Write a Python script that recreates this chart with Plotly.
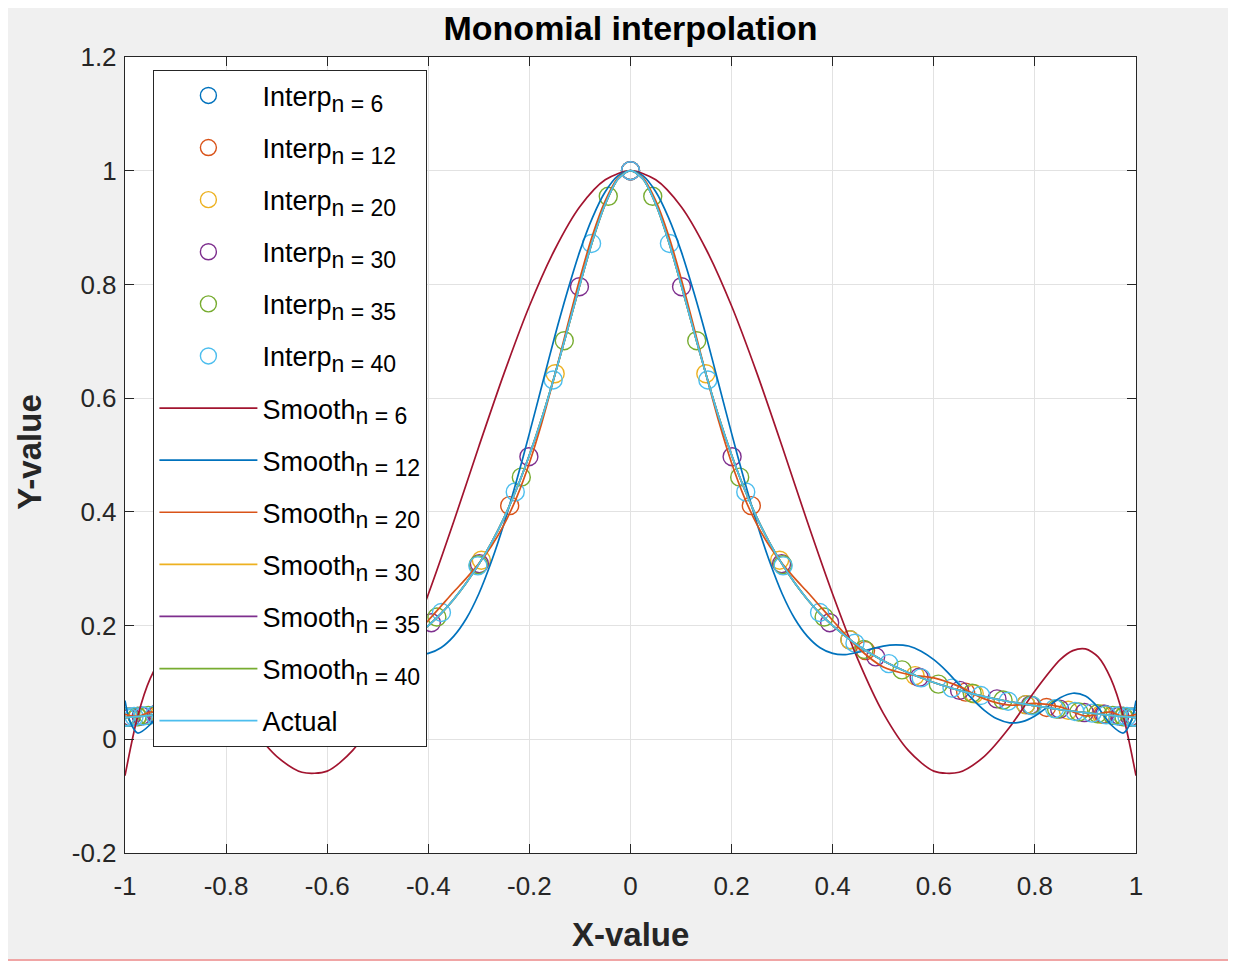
import plotly.graph_objects as go

# ---------------- data ----------------
interp6_x = [-0.975, -0.782, -0.434, 0.0, 0.434, 0.782, 0.975]
interp6_y = [0.040, 0.061, 0.175, 1.0, 0.175, 0.061, 0.040]

interp12_x = [-0.993, -0.935, -0.823, -0.663, -0.465, -0.239, 0.0,
              0.239, 0.465, 0.663, 0.823, 0.935, 0.993]
interp12_y = [0.039, 0.044, 0.056, 0.083, 0.156, 0.411, 1.0,
              0.411, 0.156, 0.083, 0.056, 0.044, 0.039]

interp20_x = [-0.997, -0.975, -0.931, -0.866, -0.782, -0.680, -0.563, -0.434, -0.295, -0.149, 0.0,
              0.149, 0.295, 0.434, 0.563, 0.680, 0.782, 0.866, 0.931, 0.975, 0.997]
interp20_y = [0.039, 0.040, 0.044, 0.051, 0.061, 0.080, 0.112, 0.175, 0.315, 0.643, 1.0,
              0.643, 0.315, 0.175, 0.112, 0.080, 0.061, 0.051, 0.044, 0.040, 0.039]

interp30_x = [-0.999, -0.988, -0.968, -0.938, -0.898, -0.849, -0.791, -0.725, -0.651, -0.571,
              -0.485, -0.394, -0.299, -0.201, -0.101, 0.0,
              0.101, 0.201, 0.299, 0.394, 0.485, 0.571, 0.651, 0.725, 0.791, 0.849,
              0.898, 0.938, 0.968, 0.988, 0.999]
interp30_y = [0.039, 0.039, 0.041, 0.044, 0.047, 0.053, 0.060, 0.071, 0.086, 0.109,
              0.145, 0.205, 0.309, 0.497, 0.796, 1.0,
              0.796, 0.497, 0.309, 0.205, 0.145, 0.109, 0.086, 0.071, 0.060, 0.053,
              0.047, 0.044, 0.041, 0.039, 0.039]

interp35_x = [-0.999, -0.991, -0.976, -0.954, -0.924, -0.887, -0.843, -0.793, -0.737,
              -0.676, -0.609, -0.537, -0.462, -0.383, -0.301, -0.216, -0.131, -0.044,
              0.044, 0.131, 0.216, 0.301, 0.383, 0.462, 0.537, 0.609, 0.676,
              0.737, 0.793, 0.843, 0.887, 0.924, 0.954, 0.976, 0.991, 0.999]
interp35_y = [0.039, 0.039, 0.040, 0.042, 0.045, 0.048, 0.053, 0.060, 0.069,
              0.081, 0.097, 0.122, 0.158, 0.215, 0.307, 0.461, 0.701, 0.955,
              0.955, 0.701, 0.461, 0.307, 0.215, 0.158, 0.122, 0.097, 0.081,
              0.069, 0.060, 0.053, 0.048, 0.045, 0.042, 0.040, 0.039, 0.039]

interp40_x = [-0.999, -0.993, -0.982, -0.964, -0.941, -0.913, -0.879, -0.839, -0.795, -0.747,
              -0.693, -0.636, -0.575, -0.511, -0.444, -0.374, -0.302, -0.228, -0.153, -0.077, 0.0,
              0.077, 0.153, 0.228, 0.302, 0.374, 0.444, 0.511, 0.575, 0.636, 0.693,
              0.747, 0.795, 0.839, 0.879, 0.913, 0.941, 0.964, 0.982, 0.993, 0.999]
interp40_y = [0.039, 0.039, 0.040, 0.041, 0.043, 0.046, 0.049, 0.054, 0.059, 0.067,
              0.077, 0.090, 0.108, 0.133, 0.169, 0.223, 0.305, 0.435, 0.632, 0.872, 1.0,
              0.872, 0.632, 0.435, 0.305, 0.223, 0.169, 0.133, 0.108, 0.090, 0.077,
              0.067, 0.059, 0.054, 0.049, 0.046, 0.043, 0.041, 0.040, 0.039, 0.039]

smooth6_x = [-1.0, -0.975, -0.95, -0.925, -0.9, -0.875, -0.85, -0.8, -0.75, -0.7, -0.65, -0.6,
             -0.55, -0.5, -0.45, -0.4, -0.35, -0.3, -0.25, -0.2, -0.15, -0.1, -0.05, 0.0,
             0.05, 0.1, 0.15, 0.2, 0.25, 0.3, 0.35, 0.4, 0.45, 0.5, 0.55,
             0.6, 0.65, 0.7, 0.75, 0.8, 0.85, 0.875, 0.9, 0.925, 0.95, 0.975, 1.0]
smooth6_y = [-0.064, 0.040, 0.107, 0.145, 0.159, 0.156, 0.140, 0.085, 0.021, -0.030, -0.058, -0.056,
             -0.020, 0.046, 0.140, 0.255, 0.382, 0.515, 0.644, 0.762, 0.861, 0.937, 0.984, 1.0,
             0.984, 0.937, 0.861, 0.762, 0.644, 0.515, 0.382, 0.255, 0.140, 0.046, -0.020,
             -0.056, -0.058, -0.030, 0.021, 0.085, 0.140, 0.156, 0.159, 0.145, 0.107, 0.040, -0.064]

smooth12_x = [-1.0, -0.99, -0.975, -0.95, -0.925, -0.9, -0.875, -0.85, -0.825, -0.8, -0.775,
              -0.75, -0.725, -0.7, -0.675, -0.65, -0.625, -0.6, -0.575, -0.55, -0.525, -0.5,
              -0.45, -0.425, -0.4, -0.375, -0.35, -0.325, -0.3, -0.275, -0.25, -0.225, -0.2,
              -0.175, -0.15, -0.125, -0.1, -0.075, -0.05, -0.025, 0.0,
              0.025, 0.05, 0.075, 0.1, 0.125, 0.15, 0.175, 0.2, 0.225, 0.25, 0.275, 0.3,
              0.325, 0.35, 0.375, 0.4, 0.425, 0.45, 0.5, 0.525, 0.55, 0.575, 0.6, 0.625,
              0.65, 0.675, 0.7, 0.725, 0.75, 0.775, 0.8, 0.825, 0.85, 0.875, 0.9, 0.925,
              0.95, 0.975, 0.99, 1.0]
smooth12_y = [0.068, 0.031, 0.011, 0.026, 0.056, 0.076, 0.081, 0.073, 0.057, 0.041, 0.031,
              0.029, 0.036, 0.051, 0.072, 0.096, 0.120, 0.140, 0.155, 0.164, 0.166, 0.164,
              0.153, 0.149, 0.151, 0.161, 0.181, 0.212, 0.256, 0.313, 0.380, 0.456, 0.538,
              0.623, 0.708, 0.787, 0.859, 0.918, 0.963, 0.991, 1.0,
              0.991, 0.963, 0.918, 0.859, 0.787, 0.708, 0.623, 0.538, 0.456, 0.380, 0.313, 0.256,
              0.212, 0.181, 0.161, 0.151, 0.149, 0.153, 0.164, 0.166, 0.164, 0.155, 0.140, 0.120,
              0.096, 0.072, 0.051, 0.036, 0.029, 0.031, 0.041, 0.057, 0.073, 0.081, 0.076, 0.056,
              0.026, 0.011, 0.031, 0.068]

smooth20_x = [-1.0, -0.975, -0.95, -0.9, -0.85, -0.8, -0.75, -0.7, -0.65, -0.6, -0.55, -0.5,
              -0.45, -0.4, -0.375, -0.35, -0.325, -0.3, -0.275, -0.25, -0.225, -0.2, -0.175,
              -0.15, -0.125, -0.1, -0.075, -0.05, -0.025, 0.0,
              0.025, 0.05, 0.075, 0.1, 0.125, 0.15, 0.175, 0.2, 0.225, 0.25, 0.275, 0.3,
              0.325, 0.35, 0.375, 0.4, 0.45, 0.5, 0.55, 0.6, 0.65, 0.7, 0.75, 0.8, 0.85,
              0.9, 0.95, 0.975, 1.0]
smooth20_y = [0.044, 0.040, 0.048, 0.041, 0.057, 0.063, 0.060, 0.071, 0.093, 0.108, 0.114, 0.127,
              0.161, 0.209, 0.234, 0.259, 0.283, 0.309, 0.340, 0.378, 0.426, 0.486, 0.558,
              0.640, 0.726, 0.811, 0.887, 0.947, 0.987, 1.0,
              0.987, 0.947, 0.887, 0.811, 0.726, 0.640, 0.558, 0.486, 0.426, 0.378, 0.340, 0.309,
              0.283, 0.259, 0.234, 0.209, 0.161, 0.127, 0.114, 0.108, 0.093, 0.071, 0.060, 0.063, 0.057,
              0.041, 0.048, 0.040, 0.044]

actual_x = [-1.0, -0.95, -0.9, -0.85, -0.8, -0.75, -0.7, -0.65, -0.6, -0.55, -0.5, -0.45,
            -0.4, -0.375, -0.35, -0.325, -0.3, -0.275, -0.25, -0.225, -0.2, -0.175, -0.15,
            -0.125, -0.1, -0.075, -0.05, -0.025, 0.0,
            0.025, 0.05, 0.075, 0.1, 0.125, 0.15, 0.175, 0.2, 0.225, 0.25, 0.275, 0.3,
            0.325, 0.35, 0.375, 0.4, 0.45, 0.5, 0.55, 0.6, 0.65, 0.7, 0.75, 0.8, 0.85,
            0.9, 0.95, 1.0]
actual_y = [0.038, 0.042, 0.047, 0.052, 0.059, 0.066, 0.075, 0.086, 0.100, 0.117, 0.138, 0.165,
            0.200, 0.221, 0.246, 0.275, 0.308, 0.346, 0.390, 0.441, 0.500, 0.566, 0.640,
            0.719, 0.800, 0.877, 0.941, 0.985, 1.0,
            0.985, 0.941, 0.877, 0.800, 0.719, 0.640, 0.566, 0.500, 0.441, 0.390, 0.346, 0.308,
            0.275, 0.246, 0.221, 0.200, 0.165, 0.138, 0.117, 0.100, 0.086, 0.075, 0.066, 0.059, 0.052,
            0.047, 0.042, 0.038]

# higher-order smooth curves are visually identical to the actual curve
smooth30_y = actual_y
smooth35_y = actual_y
smooth40_y = actual_y

x_ticks = [-1, -0.8, -0.6, -0.4, -0.2, 0, 0.2, 0.4, 0.6, 0.8, 1]
x_tick_text = ["-1", "-0.8", "-0.6", "-0.4", "-0.2", "0", "0.2", "0.4", "0.6", "0.8", "1"]
y_ticks = [-0.2, 0, 0.2, 0.4, 0.6, 0.8, 1.0, 1.2]
y_tick_text = ["-0.2", "0", "0.2", "0.4", "0.6", "0.8", "1", "1.2"]

# ---------------- styling ----------------
C_BLUE = "#0072BD"
C_ORANGE = "#D95319"
C_YELLOW = "#EDB120"
C_PURPLE = "#7E2F8E"
C_GREEN = "#77AC30"
C_CYAN = "#4DBEEE"
C_RED = "#A2142F"
AX = "#262626"
FONT = "Liberation Sans, Arial, Helvetica, sans-serif"

FIG_W, FIG_H = 1228, 953
ML, MR, MT, MB = 117, 100, 49, FIG_H - 845
PLOT_H = 845 - 49


def sub_label(main, n):
    return f'{main}<sub><span style="font-size:23px">n = {n}</span></sub>'


fig = go.Figure()

markers = [
    (sub_label("Interp", 6), interp6_x, interp6_y, C_BLUE),
    (sub_label("Interp", 12), interp12_x, interp12_y, C_ORANGE),
    (sub_label("Interp", 20), interp20_x, interp20_y, C_YELLOW),
    (sub_label("Interp", 30), interp30_x, interp30_y, C_PURPLE),
    (sub_label("Interp", 35), interp35_x, interp35_y, C_GREEN),
    (sub_label("Interp", 40), interp40_x, interp40_y, C_CYAN),
]
for i, (name, xs, ys, col) in enumerate(markers):
    fig.add_trace(go.Scatter(
        x=xs, y=ys, mode="markers", name=name, legendgroup=f"g{i}",
        marker=dict(symbol="circle-open", size=18, color=col, line=dict(width=1.4, color=col)),
    ))

lines = [
    (sub_label("Smooth", 6), smooth6_x, smooth6_y, C_RED),
    (sub_label("Smooth", 12), smooth12_x, smooth12_y, C_BLUE),
    (sub_label("Smooth", 20), smooth20_x, smooth20_y, C_ORANGE),
    (sub_label("Smooth", 30), actual_x, smooth30_y, C_YELLOW),
    (sub_label("Smooth", 35), actual_x, smooth35_y, C_PURPLE),
    (sub_label("Smooth", 40), actual_x, smooth40_y, C_GREEN),
    ("Actual", actual_x, actual_y, C_CYAN),
]
for i, (name, xs, ys, col) in enumerate(lines):
    fig.add_trace(go.Scatter(
        x=xs, y=ys, mode="lines", name=name, legendgroup=f"h{i}",
        line=dict(color=col, width=1.7, shape="spline", smoothing=0.8),
    ))

axis_common = dict(
    showline=True, linecolor=AX, linewidth=1.4, mirror="ticks",
    ticks="inside", ticklen=9, tickwidth=1.2, tickcolor=AX,
    showgrid=True, gridcolor="#e2e2e2", gridwidth=1, zeroline=False,
    tickfont=dict(family=FONT, size=26, color=AX),
)

fig.update_layout(
    width=FIG_W, height=FIG_H,
    margin=dict(l=ML, r=MR, t=MT, b=MB, pad=0),
    paper_bgcolor="#f0f0f0", plot_bgcolor="white",
    font=dict(family=FONT, color=AX),
    title=dict(text="<b>Monomial interpolation</b>", x=0.5, xref="paper", xanchor="center",
               y=1 - 20 / FIG_H, yref="container", yanchor="middle",
               font=dict(family=FONT, size=34, color="#000000")),
    xaxis=dict(range=[-1, 1], tickvals=x_ticks, ticktext=x_tick_text,
               ticklabelstandoff=10, **axis_common),
    yaxis=dict(range=[-0.2, 1.2], tickvals=y_ticks, ticktext=y_tick_text,
               ticklabelstandoff=2, **axis_common),
    legend=dict(x=(153 - 125) / 1011, y=(853 - 70) / 796, xanchor="left", yanchor="top",
                bgcolor="white", bordercolor=AX, borderwidth=1.4,
                font=dict(family=FONT, size=27, color="#000000"),
                itemwidth=98, tracegroupgap=14, traceorder="grouped"),
    annotations=[
        dict(text="<b>X-value</b>", xref="paper", yref="paper", x=0.5, y=(853 - 934) / 796,
             xanchor="center", yanchor="middle", showarrow=False,
             font=dict(family=FONT, size=33, color=AX)),
        dict(text="<b>Y-value</b>", xref="paper", yref="paper", x=(30 - 125) / 1011, y=0.504,
             xanchor="center", yanchor="middle", showarrow=False, textangle=-90,
             font=dict(family=FONT, size=33, color=AX)),
    ],
    shapes=[
        dict(type="line", xref="paper", yref="paper", x0=-0.2, x1=1.2,
             y0=(845 - (FIG_H - 1)) / PLOT_H, y1=(845 - (FIG_H - 1)) / PLOT_H,
             line=dict(color="#f08c8c", width=1.5)),
    ],
)

fig.write_html("out.html")
